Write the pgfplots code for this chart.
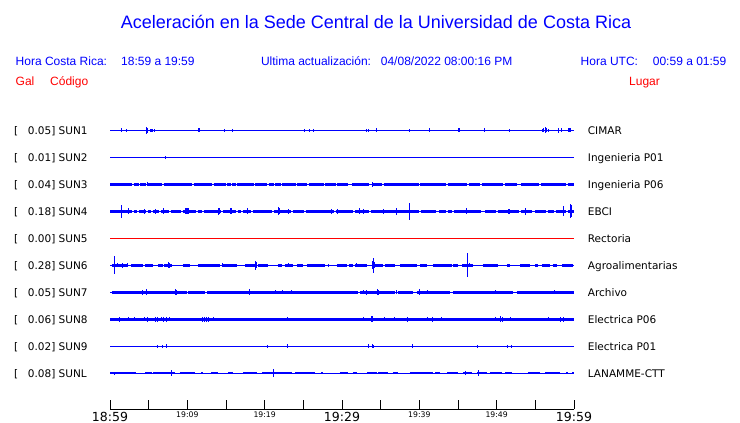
\documentclass[border=0pt]{standalone}
\usepackage{fontspec}
\setmainfont{Liberation Sans}
\newfontfamily\dv{DejaVu Sans}
\usepackage{pgfplots}
\pgfplotsset{compat=1.18}
\definecolor{pblue}{RGB}{0,0,255}
\definecolor{pred}{RGB}{255,0,0}
\pgfplotsset{
  base/.style={pblue, line width=1pt, forget plot},
  band/.style={pblue, line width=3.2pt, unbounded coords=jump, forget plot},
  spk/.style={only marks, mark=*, mark size=0pt, mark options={draw=none, fill=none}, pblue, forget plot,
    error bars/.cd, y dir=both, y explicit, error mark=none,
    error bar style={pblue, line width=1pt, solid}},
}
\begin{document}
\begin{tikzpicture}[x=1pt,y=1pt]
\useasboundingbox (0,0) rectangle (740,423);
% header
\node[anchor=base, pblue, font=\fontsize{18}{20}\selectfont] at (376,394) {Aceleración en la Sede Central de la Universidad de Costa Rica};
\begin{scope}[every node/.style={anchor=base west, font=\fontsize{12}{14}\selectfont, inner sep=0pt}]
\node[pblue] at (15.5,357) {Hora Costa Rica:};
\node[pblue] at (121,357) {18:59 a 19:59};
\node[pblue] at (260.8,357) {Ultima actualización:};
\node[pblue] at (380.7,357) {04/08/2022 08:00:16 PM};
\node[pblue] at (580.5,357) {Hora UTC:};
\node[pblue, anchor=base east] at (726.5,357) {00:59 a 01:59};
\node[pred] at (15.5,337) {Gal};
\node[pred] at (50,337) {Código};
\node[pred] at (629,337) {Lugar};
\end{scope}
% row labels
\begin{scope}[every node/.style={anchor=base west, font=\dv\fontsize{10.5}{12}\selectfont, inner sep=0pt}]
\foreach \v/\c/\l [count=\k from 0] in {0.05/SUN1/CIMAR, 0.01/SUN2/Ingenieria P01, 0.04/SUN3/Ingenieria P06, 0.18/SUN4/EBCI, 0.00/SUN5/Rectoria, 0.28/SUN6/Agroalimentarias, 0.05/SUN7/Archivo, 0.06/SUN8/Electrica P06, 0.02/SUN9/Electrica P01, 0.08/SUNL/LANAMME-CTT}{
  \node at (14,288.9-27*\k) {[};
  \node at (27.7,288.9-27*\k) {\v] \c};
  \node at (587.7,288.9-27*\k) {\l};
}
\end{scope}
\begin{axis}[at={(110pt,13.7pt)}, anchor=south west, scale only axis,
  width=464pt, height=294pt, xmin=0, xmax=60, ymin=0, ymax=294,
  axis y line=none, axis x line*=bottom, x axis line style={black, line width=0.9pt, -},
  xtick={0,5,...,60}, tick align=inside, major tick length=9pt,
  xtick style={black, line width=0.9pt},
  xticklabel style={font=\dv, anchor=north, inner sep=0pt, yshift=-2.7pt, text=black},
  xticklabels={{\fontsize{12.5}{13}\selectfont 18:59},{},{\fontsize{7.7}{8}\selectfont 19:09},{},{\fontsize{7.7}{8}\selectfont 19:19},{},{\fontsize{12.5}{13}\selectfont 19:29},{},{\fontsize{7.7}{8}\selectfont 19:39},{},{\fontsize{7.7}{8}\selectfont 19:49},{},{\fontsize{12.5}{13}\selectfont 19:59}},
  clip=false]
% baselines
\addplot[base] coordinates {(0,279)(60,279)};
\addplot[base] coordinates {(0,252)(60,252)};
\addplot[base] coordinates {(0,225)(60,225)};
\addplot[base] coordinates {(0,198)(60,198)};
\addplot[base, pred] coordinates {(0,171)(60,171)};
\addplot[base] coordinates {(0,144)(60,144)};
\addplot[base] coordinates {(0,117)(60,117)};
\addplot[base] coordinates {(0,90)(60,90)};
\addplot[base] coordinates {(0,63)(60,63)};
\addplot[base] coordinates {(0,36)(60,36)};
% SUN1
\addplot[spk] coordinates {
(1.55,279)+-(0,2) (2.07,279)+-(0,1.5) (4.66,279)+-(0,2.5) (4.78,279)+-(0,3.5) (4.91,279)+-(0,2.5)
(5.30,279)+-(0,1.5) (5.43,279)+-(0,1.5) (5.56,279)+-(0,1.5) (5.69,279)+-(0,1.5)
(11.45,279)+-(0,1.8) (11.58,279)+-(0,1.8) (14.87,279)+-(0,1.5) (15.78,279)+-(0,1.5)
(25.09,279)+-(0,1.5) (25.86,279)+-(0,1.5) (26.25,279)+-(0,1.5) (33.23,279)+-(0,1.5) (33.49,279)+-(0,1.5)
(34.40,279)+-(0,2) (38.79,279)+-(0,1.5) (41.25,279)+-(0,2) (45.07,279)+-(0,1.8) (45.2,279)+-(0,1.8)
(48.49,279)+-(0,2) (51.72,279)+-(0,1.5) (55.99,279)+-(0,1.5) (56.12,279)+-(0,2) (56.25,279)+-(0,3)
(56.38,279)+-(0,2) (56.64,279)+-(0,1.5) (58.06,279)+-(0,2.5) (58.32,279)+-(0,2)
(59.35,279)+-(0,2) (59.48,279)+-(0,2) (59.61,279)+-(0,2)};
% SUN2
\addplot[spk] coordinates {(7.24,252)+-(0,1.5)};
% SUN3
\addplot[band] coordinates {
(0,225)(2.9,225)(2.9,nan)(3.06,225)(3.77,225)(3.77,nan)(3.93,225)(4.63,225)(4.63,nan)
(4.79,225)(6.78,225)(6.78,nan)(6.94,225)(10.65,225)(10.65,nan)(10.81,225)(13.24,225)(13.24,nan)
(13.4,225)(14.97,225)(14.97,nan)(15.13,225)(15.61,225)(15.61,nan)(15.77,225)(16.26,225)(16.26,nan)
(16.42,225)(18.63,225)(18.63,nan)(18.79,225)(20.35,225)(20.35,nan)(20.51,225)(21.22,225)(21.22,nan)
(21.38,225)(22.08,225)(22.08,nan)(22.24,225)(24.02,225)(24.02,nan)(24.18,225)(25.52,225)(25.52,nan)
(25.68,225)(27.68,225)(27.68,nan)(27.84,225)(29.19,225)(29.19,nan)(29.35,225)(30.78,225)(30.78,nan)
(31.29,225)(33.49,225)(33.49,nan)(33.88,225)(35.22,225)(35.22,nan)(35.38,225)(39.99,225)(39.99,nan)
(40.15,225)(43.5,225)(43.5,nan)(43.66,225)(46.21,225)(46.21,nan)(46.37,225)(47.9,225)(47.9,nan)
(48.06,225)(50.87,225)(50.87,nan)(51.03,225)(52.6,225)(52.6,nan)(53.2,225)(55.52,225)(55.52,nan)
(55.68,225)(59.02,225)(59.02,nan)(59.18,225)(60,225)};
\addplot[spk] coordinates {(34.0,225)+-(0,2.5) (4.9,225)+-(0,2)};
% SUN4
\addplot[band] coordinates {
(0,198)(2.89,198)(2.89,nan)(3.05,198)(3.54,198)(3.54,nan)(3.7,198)(4.7,198)(4.7,nan)
(4.86,198)(5.35,198)(5.35,nan)(5.51,198)(6.39,198)(6.39,nan)(6.55,198)(7.68,198)(7.68,nan)
(7.84,198)(9.23,198)(9.23,nan)(9.39,198)(11.17,198)(11.17,nan)(11.33,198)(11.95,198)(11.95,nan)
(12.11,198)(14.4,198)(14.4,nan)(14.56,198)(16.34,198)(16.34,nan)(16.5,198)(16.99,198)(16.99,nan)
(17.15,198)(18.28,198)(18.28,nan)(18.44,198)(21.0,198)(21.0,nan)(21.16,198)(23.45,198)(23.45,nan)
(23.61,198)(25.14,198)(25.14,nan)(25.3,198)(29.01,198)(29.01,nan)(29.17,198)(31.4,198)(31.4,nan)
(31.7,198)(33.54,198)(33.54,nan)(33.7,198)(40.01,198)(40.01,nan)(40.17,198)(42.2,198)(42.2,nan)
(42.6,198)(43.5,198)(43.5,nan)(43.66,198)(44.27,198)(44.27,nan)(44.43,198)(48.0,198)(48.0,nan)
(48.5,198)(49.96,198)(49.96,nan)(50.12,198)(52.94,198)(52.94,nan)(53.1,198)(54.6,198)(54.6,nan)
(55.0,198)(56.42,198)(56.42,nan)(56.58,198)(57.46,198)(57.46,nan)(57.62,198)(59.02,198)(59.02,nan)
(59.18,198)(60,198)};
\addplot[spk] coordinates {
(1.55,198)+-(0,6.5) (2.33,198)+-(0,3) (4.40,198)+-(0,2.5) (5.82,198)+-(0,2.5) (6.98,198)+-(0,3)
(9.7,198)+-(0,3) (9.83,198)+-(0,3) (9.96,198)+-(0,3) (10.09,198)+-(0,3) (14.09,198)+-(0,3.5) (14.22,198)+-(0,3)
(15.52,198)+-(0,3) (15.65,198)+-(0,3) (17.84,198)+-(0,3) (21.85,198)+-(0,4) (21.98,198)+-(0,3) (23.02,198)+-(0,2.5)
(28.58,198)+-(0,2.5) (29.48,198)+-(0,2.5) (32.20,198)+-(0,3) (32.84,198)+-(0,2.5) (35.43,198)+-(0,2.5)
(37.11,198)+-(0,3.5) (38.79,198)+-(0,8.5) (46.16,198)+-(0,3) (51.47,198)+-(0,2.5) (51.6,198)+-(0,2.5)
(53.79,198)+-(0,3.5) (58.58,198)+-(0,5) (59.61,198)+-(0,7) (59.74,198)+-(0,6)};
% SUN6
\addplot[band, line width=2.6pt] coordinates {
(0.26,144)(2.20,144)(2.20,nan)(2.72,144)(4.27,144)(4.27,nan)(4.53,144)(5.56,144)(5.56,nan)
(6.21,144)(6.85,144)(6.85,nan)(6.98,144)(8.02,144)(8.02,nan)(9.44,144)(10.34,144)(10.34,nan)
(11.38,144)(14.22,144)(14.22,nan)(14.48,144)(16.42,144)(16.42,nan)(17.46,144)(19.01,144)(19.01,nan)
(19.14,144)(20.43,144)(20.43,nan)(21.72,144)(22.24,144)(22.24,nan)(22.63,144)(23.66,144)(23.66,nan)
(24.18,144)(24.96,144)(24.96,nan)(25.47,144)(27.80,144)(27.80,nan)(29.35,144)(30.65,144)(30.65,nan)
(30.90,144)(31.42,144)(31.42,nan)(31.68,144)(33.23,144)(33.23,nan)(34.01,144)(35.30,144)(35.30,nan)
(35.56,144)(36.85,144)(36.85,nan)(37.50,144)(39.70,144)(39.70,nan)(40.09,144)(40.99,144)(40.99,nan)
(41.77,144)(44.22,144)(44.22,nan)(44.35,144)(45.00,144)(45.00,nan)(45.52,144)(46.94,144)(46.94,nan)
(48.23,144)(50.17,144)(50.17,nan)(51.34,144)(51.72,144)(51.72,nan)(53.02,144)(54.31,144)(54.31,nan)
(54.96,144)(55.34,144)(55.34,nan)(55.86,144)(56.90,144)(56.90,nan)(57.28,144)(57.80,144)(57.80,nan)
(58.45,144)(59.87,144)};
\addplot[spk] coordinates {
(0.52,144)+-(0,9) (1.03,144)+-(0,2) (1.68,144)+-(0,2.5) (2.2,144)+-(0,2) (7.5,144)+-(0,3) (7.63,144)+-(0,2.5)
(14.61,144)+-(0,2) (18.75,144)+-(0,4.5) (18.88,144)+-(0,3) (23.02,144)+-(0,2) (28.2,144)+-(0,1.5)
(31.9,144)+-(0,2) (33.88,144)+-(0,4) (34.01,144)+-(0,7.5) (34.14,144)+-(0,3) (46.29,144)+-(0,12) (46.5,144)+-(0,2)};
% SUN7
\addplot[band, line width=3.4pt] coordinates {
(0.3,117)(9.9,117)(9.9,nan)(10.15,117)(12.25,117)(12.25,nan)(12.6,117)(32.1,117)(32.1,nan)
(32.3,117)(36.85,117)(36.85,nan)(37.24,117)(39.18,117)(39.18,nan)(39.7,117)(43.97,117)(43.97,nan)
(44.35,117)(52.1,117)(52.1,nan)(52.6,117)(60,117)};
\addplot[spk] coordinates {
(0.65,117)+-(0,1.5) (4.14,117)+-(0,2.5) (4.66,117)+-(0,3) (8.41,117)+-(0,3) (8.54,117)+-(0,2.5)
(18.10,117)+-(0,3) (21.34,117)+-(0,2) (22.37,117)+-(0,2) (23.53,117)+-(0,2) (26.38,117)+-(0,1.5)
(31.03,117)+-(0,1.5) (32.72,117)+-(0,2) (33.23,117)+-(0,2.5) (34.53,117)+-(0,3) (34.66,117)+-(0,2.5)
(37.11,117)+-(0,2) (39.96,117)+-(0,3) (41.12,117)+-(0,2) (49.91,117)+-(0,2) (57.54,117)+-(0,2) (59.1,117)+-(0,1.5)};
% SUN8
\addplot[band, line width=3.4pt] coordinates {(0,90)(60,90)};
\addplot[spk] coordinates {
(1.29,90)+-(0,2.5) (2.33,90)+-(0,2) (3.23,90)+-(0,2) (4.40,90)+-(0,2) (4.91,90)+-(0,2.5) (5.82,90)+-(0,2.5)
(6.2,90)+-(0,2.5) (6.6,90)+-(0,2) (6.98,90)+-(0,2.5) (7.37,90)+-(0,2.5) (7.63,90)+-(0,2)
(11.90,90)+-(0,2.5) (12.28,90)+-(0,2.5) (12.54,90)+-(0,2.5) (12.8,90)+-(0,2.5) (13.32,90)+-(0,2)
(22.89,90)+-(0,2) (28.71,90)+-(0,1.5) (32.72,90)+-(0,2) (33.80,90)+-(0,3) (33.93,90)+-(0,3)
(35.56,90)+-(0,2) (36.85,90)+-(0,2) (38.41,90)+-(0,2.5) (41.12,90)+-(0,2) (41.64,90)+-(0,2.5)
(42.93,90)+-(0,2) (45.91,90)+-(0,1.5) (49.91,90)+-(0,2) (50.56,90)+-(0,3) (50.69,90)+-(0,2.5)
(51.85,90)+-(0,2) (56.64,90)+-(0,2) (58.19,90)+-(0,2.5) (58.58,90)+-(0,2.5)};
% SUN9
\addplot[spk] coordinates {
(6.08,63)+-(0,1.5) (6.85,63)+-(0,1.5) (7.37,63)+-(0,2) (20.43,63)+-(0,1.5) (22.89,63)+-(0,2)
(33.49,63)+-(0,2) (33.88,63)+-(0,2) (34.01,63)+-(0,1.5) (39.18,63)+-(0,2) (47.46,63)+-(0,1.5)
(51.34,63)+-(0,1.5) (51.98,63)+-(0,1.5)};
% SUNL
\addplot[band, line width=2.4pt] coordinates {
(0,36)(3.36,36)(3.36,nan)(4.53,36)(5.43,36)(5.43,nan)(5.56,36)(8.41,36)(8.41,nan)
(9.05,36)(10.99,36)(10.99,nan)(11.77,36)(12.03,36)(12.03,nan)(13.06,36)(13.97,36)(13.97,nan)
(15.26,36)(15.91,36)(15.91,nan)(17.20,36)(19.01,36)(19.01,nan)(19.65,36)(23.53,36)(23.53,nan)
(23.92,36)(26.51,36)(26.51,nan)(27.3,36)(27.55,36)(27.55,nan)(29.74,36)(30.78,36)(30.78,nan)
(31.42,36)(31.94,36)(31.94,nan)(33.23,36)(34.53,36)(34.53,nan)(34.66,36)(35.95,36)(35.95,nan)
(36.59,36)(37.24,36)(37.24,nan)(38.79,36)(41.77,36)(41.77,nan)(42.03,36)(42.67,36)(42.67,nan)
(43.58,36)(45.00,36)(45.00,nan)(45.65,36)(46.81,36)(46.81,nan)(47.46,36)(48.75,36)(48.75,nan)
(49.14,36)(50.69,36)(50.69,nan)(51.08,36)(51.98,36)(51.98,nan)(54.05,36)(55.60,36)(55.60,nan)
(56.25,36)(58.19,36)(58.19,nan)(58.97,36)(59.23,36)(59.23,nan)(59.74,36)(60,36)};
\addplot[spk] coordinates {(0.6,36)+-(0,1.5) (7.89,36)+-(0,3) (21.08,36)+-(0,4) (46.0,36)+-(0,2) (47.59,36)+-(0,3)};
\end{axis}
\end{tikzpicture}
\end{document}
